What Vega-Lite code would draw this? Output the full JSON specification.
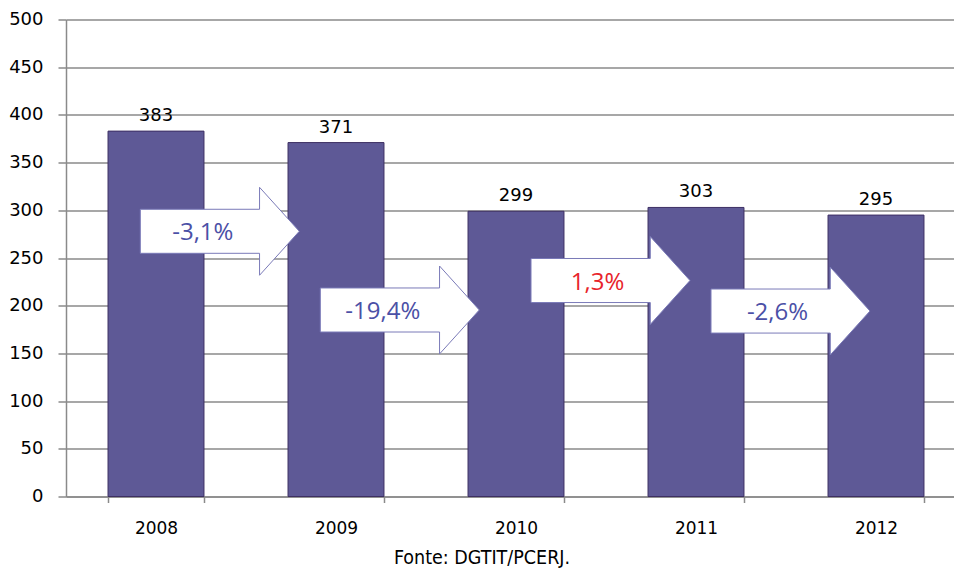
{
  "$schema": "https://vega.github.io/schema/vega-lite/v6.json",
  "width": 900,
  "height": 477,
  "autosize": {"type": "none"},
  "padding": {"left": 66, "top": 19.5, "right": 0, "bottom": 73.5},
  "background": "white",
  "config": {
    "view": {"stroke": null},
    "font": "DejaVu Sans",
    "axis": {"domainColor": "#8a8a8a", "tickColor": "#8a8a8a", "gridColor": "#8a8a8a", "labelColor": "#000000", "labelFont": "DejaVu Sans"}
  },
  "title": {
    "text": "Fonte: DGTIT/PCERJ.",
    "orient": "bottom",
    "anchor": "middle",
    "frame": "group",
    "dx": -34,
    "offset": 12,
    "font": "Liberation Sans Narrow, DejaVu Sans Condensed, sans-serif",
    "fontSize": 19.5,
    "fontWeight": "normal",
    "color": "#000000"
  },
  "datasets": {
    "counts": [
      {"year": "2008", "value": 383},
      {"year": "2009", "value": 371},
      {"year": "2010", "value": 299},
      {"year": "2011", "value": 303},
      {"year": "2012", "value": 295}
    ],
    "changes": [
      {"from": "2008", "to": "2009", "level": 278, "change": -3.1, "pct": "-3,1%"},
      {"from": "2009", "to": "2010", "level": 195.5, "change": -19.4, "pct": "-19,4%"},
      {"from": "2010", "to": "2011", "level": 226.4, "change": 1.3, "pct": "1,3%"},
      {"from": "2011", "to": "2012", "level": 194.4, "change": -2.6, "pct": "-2,6%"}
    ]
  },
  "layer": [
    {
      "data": {"name": "counts"},
      "mark": {"type": "bar", "fill": "#5e5996", "stroke": "#3d2f63", "strokeWidth": 1},
      "encoding": {
        "x": {
          "field": "year",
          "type": "ordinal",
          "scale": {"paddingInner": 0.467, "paddingOuter": 0.2335},
          "axis": {
            "title": null,
            "labelAngle": 0,
            "tickBand": "extent",
            "tickSize": 6,
            "tickWidth": 1.5,
            "domainWidth": 1.5,
            "labelPadding": 18,
            "labelFontSize": 17,
            "grid": false
          }
        },
        "y": {
          "field": "value",
          "type": "quantitative",
          "scale": {"domain": [0, 500], "nice": false},
          "axis": {
            "title": null,
            "values": [0, 50, 100, 150, 200, 250, 300, 350, 400, 450, 500],
            "tickSize": 8,
            "tickWidth": 1.5,
            "domainWidth": 1.5,
            "gridWidth": 1.5,
            "labelPadding": 15,
            "labelFontSize": 18,
            "grid": true
          }
        }
      }
    },
    {
      "data": {"name": "counts"},
      "mark": {"type": "text", "baseline": "alphabetic", "dy": -10, "fontSize": 18, "color": "#000000"},
      "encoding": {
        "x": {"field": "year", "type": "ordinal"},
        "y": {"field": "value", "type": "quantitative"},
        "text": {"field": "value"}
      }
    },
    {
      "data": {"name": "changes"},
      "transform": [{"filter": "toNumber(datum.from) < 2010"}],
      "layer": [
        {
          "mark": {
            "type": "point",
            "shape": "M-1,-0.277L0.5,-0.277L0.5,-0.553L1,0L0.5,0.553L0.5,0.277L-1,0.277Z",
            "size": 25281,
            "filled": true,
            "fill": "#ffffff",
            "fillOpacity": 1,
            "opacity": 1,
            "stroke": "#7a7ab8",
            "strokeWidth": 1
          },
          "encoding": {
            "x": {"field": "from", "type": "ordinal", "bandPosition": 1.165},
            "y": {"field": "level", "type": "quantitative"}
          }
        },
        {
          "mark": {"type": "text", "baseline": "middle", "align": "center", "dx": -17, "dy": 2, "font": "Open Sans", "fontSize": 24},
          "encoding": {
            "x": {"field": "from", "type": "ordinal", "bandPosition": 1.165},
            "y": {"field": "level", "type": "quantitative"},
            "text": {"field": "pct"},
            "color": {"condition": {"test": "datum.change > 0", "value": "#e8242b"}, "value": "#4b50a6"}
          }
        }
      ]
    },
    {
      "data": {"name": "changes"},
      "transform": [{"filter": "toNumber(datum.from) >= 2010"}],
      "layer": [
        {
          "mark": {
            "type": "point",
            "shape": "M-1,-0.277L0.5,-0.277L0.5,-0.553L1,0L0.5,0.553L0.5,0.277L-1,0.277Z",
            "size": 25281,
            "filled": true,
            "fill": "#ffffff",
            "fillOpacity": 1,
            "opacity": 1,
            "stroke": "#7a7ab8",
            "strokeWidth": 1
          },
          "encoding": {
            "x": {"field": "from", "type": "ordinal", "bandPosition": 1.485},
            "y": {"field": "level", "type": "quantitative"}
          }
        },
        {
          "mark": {"type": "text", "baseline": "middle", "align": "center", "dx": -13, "dy": 2, "font": "Open Sans", "fontSize": 24},
          "encoding": {
            "x": {"field": "from", "type": "ordinal", "bandPosition": 1.485},
            "y": {"field": "level", "type": "quantitative"},
            "text": {"field": "pct"},
            "color": {"condition": {"test": "datum.change > 0", "value": "#e8242b"}, "value": "#4b50a6"}
          }
        }
      ]
    }
  ]
}
